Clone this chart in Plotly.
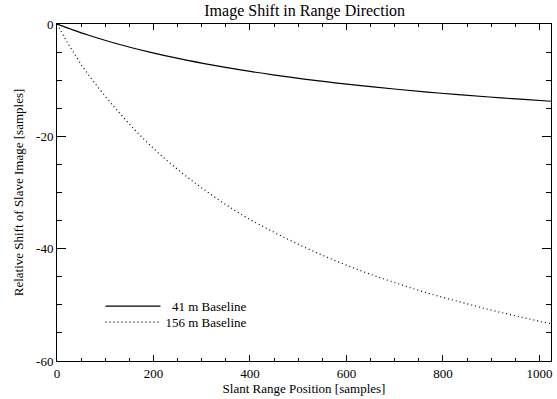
import plotly.graph_objects as go

# Slant range position [samples]
slant_range = [0, 16, 32, 64, 128, 192, 256, 320, 384, 448, 512, 576, 640, 704, 768, 832, 896, 960, 1024]

# Relative shift of slave image [samples]
shift_41m = [0.0, -0.52, -1.02, -1.95, -3.60, -5.00, -6.22, -7.28, -8.22, -9.05, -9.80,
             -10.47, -11.07, -11.62, -12.12, -12.58, -13.00, -13.39, -13.75]
shift_156m = [0.0, -2.45, -4.75, -8.9, -15.7, -21.5, -26.3, -30.4, -34.0, -37.0, -39.7,
              -42.1, -44.25, -46.15, -47.9, -49.4, -50.85, -52.15, -53.35]

series_names = ["\u00a0\u00a041 m Baseline", "156 m Baseline"]

x_ticks = [0, 200, 400, 600, 800, 1000]
y_ticks = [0, -20, -40, -60]

FONT = "Liberation Serif, Times New Roman, serif"

fig = go.Figure()
fig.add_trace(go.Scatter(x=slant_range, y=shift_41m, mode="lines", name=series_names[0],
                         legend="legend",
                         line=dict(color="black", width=1.2, shape="spline")))
fig.add_trace(go.Scatter(x=slant_range, y=shift_156m, mode="lines", name=series_names[1],
                         legend="legend2",
                         line=dict(color="black", width=1.2, dash="1px,3px", shape="spline")))

axis_common = dict(
    showgrid=False, zeroline=False, showline=True, linecolor="black", linewidth=1,
    mirror="ticks", ticks="inside", tickcolor="black", tickwidth=1,
    tickfont=dict(family=FONT, size=13, color="black"),
)

fig.update_xaxes(
    range=[0, 1024], tickvals=x_ticks, ticktext=[str(v) for v in x_ticks], ticklen=6,
    minor=dict(dtick=50, tick0=0, ticks="inside", ticklen=3, tickcolor="black", tickwidth=1),
    title=dict(text="Slant Range Position [samples]", font=dict(family=FONT, size=13, color="black"), standoff=4),
    **axis_common,
)
fig.update_yaxes(
    range=[-60, 0], tickvals=y_ticks, ticktext=[str(v) for v in y_ticks], ticklen=9,
    minor=dict(dtick=5, tick0=0, ticks="inside", ticklen=5, tickcolor="black", tickwidth=1),
    title=dict(text="Relative Shift of Slave Image [samples]", font=dict(family=FONT, size=13, color="black"), standoff=9),
    **axis_common,
)

legend_common = dict(xanchor="left", yanchor="top", bgcolor="rgba(0,0,0,0)",
                     font=dict(family=FONT, size=13, color="black"), tracegroupgap=0, itemwidth=55)

fig.update_layout(
    width=557, height=399,
    margin=dict(l=57, r=5, t=24, b=34),
    paper_bgcolor="white", plot_bgcolor="white",
    title=dict(text="Image Shift in Range Direction", x=0.547, xanchor="center", y=0.975, yanchor="middle",
               font=dict(family=FONT, size=16, color="black")),
    font=dict(family=FONT, color="black"),
    showlegend=True,
    legend=dict(x=0.088, y=0.2074, **legend_common),
    legend2=dict(x=0.088, y=0.1596, **legend_common),
)

fig.write_html("out.html", config={"displayModeBar": False},
               post_script="document.body.style.margin='0px';document.body.style.overflow='hidden';")
